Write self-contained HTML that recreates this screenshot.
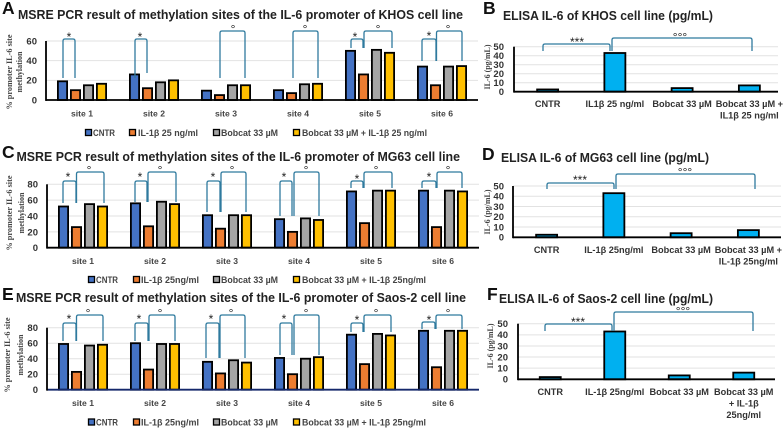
<!DOCTYPE html>
<html lang="en">
<head>
<meta charset="utf-8">
<title>MSRE PCR and ELISA results for IL-6</title>
<style>
html,body{margin:0;padding:0;background:#fff;width:783px;height:428px;overflow:hidden}
svg{display:block;filter:blur(0.35px)}
text{font-family:"Liberation Sans",sans-serif}
.letter{font-size:17.5px;font-weight:700;fill:#111}
.title{font-size:13px;font-weight:700;fill:#222}
.ytitle{font-family:"Liberation Serif",serif;font-size:8px;font-weight:700;fill:#444;text-anchor:middle}
.tick{font-size:9.5px;font-weight:700;fill:#333;text-anchor:end}
.cat{font-size:8.6px;font-weight:700;fill:#444;text-anchor:middle}
.ecat{font-size:9.2px;font-weight:700;fill:#333;text-anchor:middle}
.leg{font-size:9px;font-weight:700;fill:#444}
.sig{font-size:12px;font-weight:400;fill:#222;text-anchor:middle}
</style>
</head>
<body>
<svg id="figure" xmlns="http://www.w3.org/2000/svg" width="783" height="428" viewBox="0 0 783 428">
<rect x="0" y="0" width="783" height="428" fill="#ffffff"/>

<text class="letter" x="2" y="14">A</text>
<text class="title" x="18" y="19" textLength="445" lengthAdjust="spacingAndGlyphs">MSRE PCR result of methylation sites of the IL-6 promoter of KHOS cell line</text>
<text class="letter" x="483" y="14">B</text>
<text class="title" x="503" y="20" textLength="210" lengthAdjust="spacingAndGlyphs">ELISA IL-6 of KHOS cell line (pg/mL)</text>
<text class="letter" x="2" y="158">C</text>
<text class="title" x="16.5" y="161" textLength="443.5" lengthAdjust="spacingAndGlyphs">MSRE PCR result of methylation sites of the IL-6 promoter of MG63 cell line</text>
<text class="letter" x="482" y="160">D</text>
<text class="title" x="501" y="162" textLength="208" lengthAdjust="spacingAndGlyphs">ELISA IL-6 of MG63 cell line (pg/mL)</text>
<text class="letter" x="2" y="300">E</text>
<text class="title" x="16" y="302" textLength="450" lengthAdjust="spacingAndGlyphs">MSRE PCR result of methylation sites of the IL-6 promoter of Saos-2 cell line</text>
<text class="letter" x="487" y="300">F</text>
<text class="title" x="499" y="303" textLength="214" lengthAdjust="spacingAndGlyphs">ELISA IL-6 of Saos-2 cell line (pg/mL)</text>

<g>
<text class="ytitle" transform="translate(12,72) rotate(-90)" textLength="75" lengthAdjust="spacingAndGlyphs">% promoter IL-6 site</text>
<text class="ytitle" transform="translate(22,72) rotate(-90)">methylation</text>
</g>
<g>
<text class="ytitle" transform="translate(12,213) rotate(-90)" textLength="75" lengthAdjust="spacingAndGlyphs">% promoter IL-6 site</text>
<text class="ytitle" transform="translate(24,213) rotate(-90)">methylation</text>
</g>
<g>
<text class="ytitle" transform="translate(10,355) rotate(-90)" textLength="75" lengthAdjust="spacingAndGlyphs">% promoter IL-6 site</text>
<text class="ytitle" transform="translate(23,355) rotate(-90)">methylation</text>
</g>
<text class="ytitle" transform="translate(490,67) rotate(-90)" textLength="45" lengthAdjust="spacingAndGlyphs">IL-6 (pg/mL)</text>
<text class="ytitle" transform="translate(490,212) rotate(-90)" textLength="45" lengthAdjust="spacingAndGlyphs">IL-6 (pg/mL)</text>
<text class="ytitle" transform="translate(493,346) rotate(-90)" textLength="45" lengthAdjust="spacingAndGlyphs">IL-6 (pg/mL)</text>

<g>
<rect x="85.5" y="129.5" width="6" height="6" fill="#4472c4" stroke="#000" stroke-width="1.3"/>
<text class="leg" x="93" y="136" textLength="22" lengthAdjust="spacingAndGlyphs">CNTR</text>
<rect x="129.5" y="129.5" width="6" height="6" fill="#ed7d31" stroke="#000" stroke-width="1.3"/>
<text class="leg" x="138" y="136" textLength="60" lengthAdjust="spacingAndGlyphs">IL-1β 25 ng/ml</text>
<rect x="213.5" y="129.5" width="6" height="6" fill="#a5a5a5" stroke="#000" stroke-width="1.3"/>
<text class="leg" x="221" y="136" textLength="57" lengthAdjust="spacingAndGlyphs">Bobcat 33 µM</text>
<rect x="293.5" y="129.5" width="6" height="6" fill="#ffc000" stroke="#000" stroke-width="1.3"/>
<text class="leg" x="302" y="136" textLength="125" lengthAdjust="spacingAndGlyphs">Bobcat 33 µM + IL-1β 25 ng/ml</text>
</g>
<g>
<rect x="88.5" y="276.5" width="6" height="6" fill="#4472c4" stroke="#000" stroke-width="1.3"/>
<text class="leg" x="96" y="283" textLength="22" lengthAdjust="spacingAndGlyphs">CNTR</text>
<rect x="133.5" y="276.5" width="6" height="6" fill="#ed7d31" stroke="#000" stroke-width="1.3"/>
<text class="leg" x="141" y="283" textLength="58" lengthAdjust="spacingAndGlyphs">IL-1β 25ng/ml</text>
<rect x="213.5" y="276.5" width="6" height="6" fill="#a5a5a5" stroke="#000" stroke-width="1.3"/>
<text class="leg" x="221" y="283" textLength="57" lengthAdjust="spacingAndGlyphs">Bobcat 33 µM</text>
<rect x="293.5" y="276.5" width="6" height="6" fill="#ffc000" stroke="#000" stroke-width="1.3"/>
<text class="leg" x="302" y="283" textLength="124" lengthAdjust="spacingAndGlyphs">Bobcat 33 µM + IL-1β 25ng/ml</text>
</g>
<g>
<rect x="88.5" y="419" width="6" height="6" fill="#4472c4" stroke="#000" stroke-width="1.3"/>
<text class="leg" x="96" y="425.5" textLength="22" lengthAdjust="spacingAndGlyphs">CNTR</text>
<rect x="133.5" y="419" width="6" height="6" fill="#ed7d31" stroke="#000" stroke-width="1.3"/>
<text class="leg" x="141" y="425.5" textLength="58" lengthAdjust="spacingAndGlyphs">IL-1β 25ng/ml</text>
<rect x="213.5" y="419" width="6" height="6" fill="#a5a5a5" stroke="#000" stroke-width="1.3"/>
<text class="leg" x="221" y="425.5" textLength="57" lengthAdjust="spacingAndGlyphs">Bobcat 33 µM</text>
<rect x="293.5" y="419" width="6" height="6" fill="#ffc000" stroke="#000" stroke-width="1.3"/>
<text class="leg" x="302" y="425.5" textLength="124" lengthAdjust="spacingAndGlyphs">Bobcat 33 µM + IL-1β 25ng/ml</text>
</g>
</svg>
<script>
// ---- shared categories and ticks ----
const siteLabels = ["site 1", "site 2", "site 3", "site 4", "site 5", "site 6"];
const ticksKhos = [0, 20, 40, 60];
const ticksOther = [0, 20, 40, 60, 80];
const ticksElisa = [0, 10, 20, 30, 40, 50];

// ---- panel A: KHOS methylation ----
const khosCntr = [19, 26, 9.5, 10, 50, 34];
const khosIl1b = [10, 12, 5, 7, 26, 15];
const khosBobcat = [15, 18, 15, 16, 51, 34];
const khosCombo = [16.5, 20, 15, 16.5, 48, 34.5];

// ---- panel C: MG63 methylation ----
const mg63Cntr = [52, 56, 41, 36, 71, 72];
const mg63Il1b = [26, 27, 24, 20, 31, 26];
const mg63Bobcat = [55, 58, 41, 37, 72, 72];
const mg63Combo = [52, 55, 41, 35, 72, 71];

// ---- panel E: Saos-2 methylation ----
const saosCntr = [59, 60, 36, 41, 71, 76];
const saosIl1b = [23, 26, 21, 20, 33, 29];
const saosBobcat = [57, 59, 38, 40, 72, 76];
const saosCombo = [58, 59, 35, 42, 70, 76];

// ---- panels B, D, F: ELISA ----
const elisaKhos = [2.5, 43, 4, 7];
const elisaMg63 = [2.5, 43, 4, 7];
const elisaSaos = [2, 43, 3.5, 6];
const elisaKhosLabels = [["CNTR"], ["IL1β 25 ng/ml"], ["Bobcat 33 µM"], ["Bobcat 33 µM +", "IL1β 25 ng/ml"]];
const elisaMg63Labels = [["CNTR"], ["IL-1β 25ng/ml"], ["Bobcat 33 µM"], ["Bobcat 33 µM +", "IL-1β 25ng/ml"]];
const elisaSaosLabels = [["CNTR"], ["IL-1β 25ng/ml"], ["Bobcat 33 µM"], ["Bobcat 33 µM", "+ IL-1β", "25ng/ml"]];

const svg = document.getElementById("figure");
const NS = "http://www.w3.org/2000/svg";
const seriesColors = ["#4472c4", "#ed7d31", "#a5a5a5", "#ffc000"];
const seriesNames = ["cntr", "il1b", "bobcat", "combo"];

function make(parent, tag, attrs, text) {
  const el = document.createElementNS(NS, tag);
  for (const k in attrs) el.setAttribute(k, attrs[k]);
  if (text !== undefined) el.textContent = text;
  parent.appendChild(el);
  return el;
}

function drawFrame(g, p, ticks) {
  const yScale = v => p.y0 - (v / p.max) * (p.y0 - p.yTop);
  ticks.forEach(t => {
    if (t > 0) {
      const grid = make(g, "line", {x1: p.x0, x2: p.xEnd, y1: yScale(t), y2: yScale(t), stroke: "#e2e2e2", "stroke-width": 1});
      
      
    }
    const lab = make(g, "text", {class: "tick", x: p.tickX, y: yScale(t) + 3.4}, String(t));
    
    
  });
  return yScale;
}

function drawAxes(g, p) {
  const xAxis = make(g, "line", {x1: p.x0, x2: p.xEnd, y1: p.y0, y2: p.y0, stroke: p.axisColor || "#000", "stroke-width": 1.8});
  
  
  const yAxis = make(g, "line", {x1: p.x0, x2: p.x0, y1: p.yTop, y2: p.y0 + 0.9, stroke: "#000", "stroke-width": 1.8});
  
  
}

function drawMethylation(name, p, series) {
  const g = make(svg, "g", {});
  
  
  const yScale = drawFrame(g, p, p.ticks);
  const band = (p.xEnd - p.x0) / siteLabels.length;
  const barW = 11, step = 13;
  const xBand = i => p.x0 + band * (i + 0.5);
  series.forEach((vals, s) => {
    vals.forEach((v, i) => {
      const left = xBand(i) - (step * 4 - 2) / 2 + s * step;
      const top = yScale(v);
      const bar = make(g, "rect", {x: left + 0.9, y: top, width: barW - 1.8, height: Math.max(0, p.y0 - top), fill: seriesColors[s], stroke: "#000", "stroke-width": 1.8});
      
      
    });
  });
  siteLabels.forEach((s, i) => {
    const lab = make(g, "text", {class: "cat", x: xBand(i), y: p.y0 + 16.5}, s);
    
    
  });
  drawAxes(g, p);
}

function drawElisa(name, p, values, labels) {
  const g = make(svg, "g", {});
  
  
  const yScale = drawFrame(g, p, ticksElisa);
  const band = (p.xBand - p.x0) / values.length;
  const xBand = i => p.x0 + band * (i + 0.5);
  values.forEach((v, i) => {
    const top = yScale(v);
    const bar = make(g, "rect", {x: xBand(i) - 10.5, y: top, width: 21, height: Math.max(0, p.y0 - top), fill: "#00b0f0", stroke: "#000", "stroke-width": 1.8});
    
    
    labels[i].forEach((line, j) => {
      const lab = make(g, "text", {class: "ecat", x: xBand(i), y: p.labelY + j * 11.5}, line);
      
      
    });
  });
  drawAxes(g, p);
}

function bracket(xa, xb, top, bottomA, bottomB, symbol, labelX, labelY) {
  const r = 2;
  const path = make(svg, "path", {
    d: "M" + xa + " " + bottomA + " L" + xa + " " + (top + r) + " Q" + xa + " " + top + " " + (xa + r) + " " + top +
       " L" + (xb - r) + " " + top + " Q" + xb + " " + top + " " + xb + " " + (top + r) + " L" + xb + " " + bottomB,
    fill: "none", stroke: "#2f7a9e", "stroke-width": 1.3
  });
  
  
  const lab = make(svg, "text", {class: "sig", x: labelX, y: labelY + 6}, symbol);
  
  
}

drawMethylation("panel-a-chart", {x0: 46, xEnd: 478, y0: 100, yTop: 41, max: 60, tickX: 37, ticks: ticksKhos}, [khosCntr, khosIl1b, khosBobcat, khosCombo]);
drawMethylation("panel-c-chart", {x0: 47, xEnd: 479, y0: 247.7, yTop: 184.3, max: 80, tickX: 38, ticks: ticksOther}, [mg63Cntr, mg63Il1b, mg63Bobcat, mg63Combo]);
drawMethylation("panel-e-chart", {x0: 47, xEnd: 479, y0: 389.7, yTop: 327.7, max: 80, tickX: 38, ticks: ticksOther, axisColor: "#14286b"}, [saosCntr, saosIl1b, saosBobcat, saosCombo]);

drawElisa("panel-b-chart", {x0: 514, xBand: 783, xEnd: 778, y0: 91.7, yTop: 46.7, max: 50, tickX: 504, labelY: 107}, elisaKhos, elisaKhosLabels);
drawElisa("panel-d-chart", {x0: 513, xBand: 782, xEnd: 781, y0: 237.3, yTop: 186, max: 50, tickX: 504, labelY: 253}, elisaMg63, elisaMg63Labels);
drawElisa("panel-f-chart", {x0: 518, xBand: 776, xEnd: 775, y0: 379.3, yTop: 323.7, max: 50, tickX: 508, labelY: 395}, elisaSaos, elisaSaosLabels);

// Panel A significance annotations
bracket(63, 75, 39, 78, 78, "*", 69, 35);
bracket(135, 147, 39, 78, 73, "*", 140, 35);
bracket(220, 245, 31, 78, 78, "°", 233, 27);
bracket(293, 318, 31, 78, 78, "°", 305, 27);
bracket(351, 363, 39, 48, 48, "*", 355, 35);
bracket(364, 392, 31, 48, 48, "°", 378, 27);
bracket(422, 436, 39, 61, 61, "*", 429, 34);
bracket(436.5, 462, 31, 61, 61, "°", 448, 27);

// Panel C significance annotations
bracket(63, 76, 181, 203, 203, "*", 68, 175);
bracket(76.5, 104, 172, 203, 203, "°", 89, 168);
bracket(135, 147, 181, 202, 202, "*", 140, 175);
bracket(148, 176, 172, 202, 202, "°", 160, 168);
bracket(207, 220, 181, 212, 212, "*", 213, 175);
bracket(221, 246, 172, 212, 212, "°", 232, 168);
bracket(280, 292, 181, 216, 216, "*", 284, 175);
bracket(294, 319, 172, 216, 216, "°", 306, 168);
bracket(351, 363, 181, 188, 188, "*", 357, 177);
bracket(364, 392, 172, 188, 188, "°", 376, 168);
bracket(422, 436, 181, 188, 188, "*", 429, 175);
bracket(437, 462, 172, 188, 188, "°", 448, 168);

// Panel E significance annotations
bracket(63, 76, 323, 341, 341, "*", 69, 317);
bracket(76.5, 103, 315, 341, 341, "°", 88, 311);
bracket(135, 148, 323, 341, 341, "*", 139, 317);
bracket(149, 175, 315, 341, 341, "°", 160, 311);
bracket(206, 219, 323, 358, 358, "*", 211, 317);
bracket(220, 245, 315, 358, 358, "°", 231, 311);
bracket(280, 292, 323, 355, 355, "*", 284, 317);
bracket(294, 319, 315, 355, 355, "°", 306, 311);
bracket(351, 363, 323, 332, 332, "*", 357, 318);
bracket(364, 391, 315, 332, 332, "°", 376, 311);
bracket(422, 435, 322, 329, 329, "*", 429, 318);
bracket(436, 462, 315, 329, 329, "°", 448, 311);

// ELISA significance annotations
bracket(543, 610, 44, 51, 51, "***", 577, 40);
bracket(612, 752, 38, 51, 51, "°°°", 680, 35);
bracket(547, 614, 183, 189, 189, "***", 580, 178);
bracket(616, 755, 174, 189, 189, "°°°", 685, 170);
bracket(545, 612, 324, 331, 331, "***", 578, 320);
bracket(614, 753, 312, 331, 331, "°°°", 683, 309);
</script>
</body>
</html>
